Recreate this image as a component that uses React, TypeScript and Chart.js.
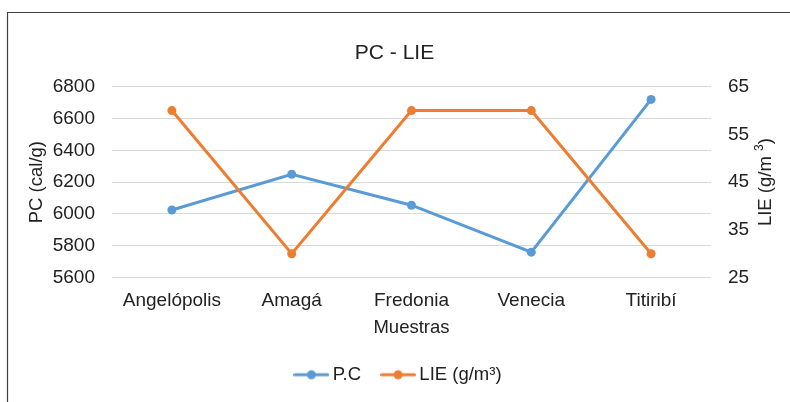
import React, { useEffect, useRef } from "react";
import { Chart, registerables } from "chart.js";

Chart.register(...registerables);

// ---- data ----
const categories = ["Angelópolis", "Amagá", "Fredonia", "Venecia", "Titiribí"];
const pcValues = [6025, 6250, 6055, 5760, 6720];
const lieValues = [60, 30, 60, 60, 30];
const pcTickRange = [5600, 6800];
const pcTickStep = 200;
const lieTickRange = [25, 65];
const lieTickStep = 10;

const seriesNames = ["P.C", "LIE (g/m³)"];
const chartTitle = "PC - LIE";
const xTitle = "Muestras";
const yTitle = "PC (cal/g)";
const y1TitleParts = ["LIE (g/m ", "3", ")"];

const BLUE = "#5B9BD5";
const ORANGE = "#ED7D31";
const TEXT = "#222222";
const GRID = "#D9D9D9";
const FONT = "'Liberation Sans', Arial, sans-serif";

function legendImage(color: string): HTMLCanvasElement {
  const c = document.createElement("canvas");
  c.width = 36;
  c.height = 12;
  const g = c.getContext("2d")!;
  g.strokeStyle = color;
  g.lineWidth = 3;
  g.lineCap = "round";
  g.beginPath();
  g.moveTo(1.5, 6);
  g.lineTo(34.5, 6);
  g.stroke();
  g.fillStyle = color;
  g.beginPath();
  g.arc(18, 6, 4.5, 0, Math.PI * 2);
  g.fill();
  return c;
}

const framePlugin = {
  id: "frame",
  beforeDraw(chart: any) {
    const ctx = chart.ctx;
    ctx.save();
    ctx.fillStyle = "#ffffff";
    ctx.fillRect(0, 0, chart.width, chart.height);
    ctx.strokeStyle = "#404040";
    ctx.lineWidth = 1.2;
    ctx.beginPath();
    ctx.moveTo(7.5, chart.height);
    ctx.lineTo(7.5, 12.5);
    ctx.lineTo(chart.width, 12.5);
    ctx.stroke();
    ctx.restore();
  },
};

const legendShift = {
  id: "legendShift",
  afterLayout(chart: any) {
    const l = chart.legend;
    if (l) {
      l.left += 6;
      l.right += 6;
    }
  },
};

// right axis title, rotated like Excel's (reading bottom-to-top), with superscript
const rightTitlePlugin = {
  id: "rightTitle",
  afterDraw(chart: any) {
    const s = chart.scales.y1;
    if (!s) return;
    const ctx = chart.ctx;
    const x = s.right - 15;
    const y = (s.top + s.bottom) / 2;
    const big = `18.5px ${FONT}`;
    const small = `12px ${FONT}`;
    ctx.save();
    ctx.font = big;
    const w1 = ctx.measureText(y1TitleParts[0]).width;
    const w3 = ctx.measureText(y1TitleParts[2]).width;
    ctx.font = small;
    const w2 = ctx.measureText(y1TitleParts[1]).width;
    const total = w1 + w2 + w3;
    ctx.translate(x, y);
    ctx.rotate(-Math.PI / 2);
    ctx.fillStyle = TEXT;
    ctx.textBaseline = "middle";
    ctx.textAlign = "left";
    let cx = -total / 2;
    ctx.font = big;
    ctx.fillText(y1TitleParts[0], cx, 0);
    cx += w1;
    ctx.font = small;
    ctx.fillText(y1TitleParts[1], cx, -6);
    cx += w2;
    ctx.font = big;
    ctx.fillText(y1TitleParts[2], cx, 0);
    ctx.restore();
  },
};

export default function App() {
  const ref = useRef<HTMLCanvasElement | null>(null);

  useEffect(() => {
    if (!ref.current) return;
    const imgs = [legendImage(BLUE), legendImage(ORANGE)];
    const chart = new Chart(ref.current, {
      type: "line",
      data: {
        labels: categories,
        datasets: [
          {
            label: seriesNames[0],
            data: pcValues,
            yAxisID: "y",
            borderColor: BLUE,
            backgroundColor: BLUE,
            pointBackgroundColor: BLUE,
            pointBorderColor: BLUE,
            borderWidth: 3,
            pointRadius: 4.5,
            pointBorderWidth: 0,
            order: 2,
          },
          {
            label: seriesNames[1],
            data: lieValues,
            yAxisID: "y1",
            borderColor: ORANGE,
            backgroundColor: ORANGE,
            pointBackgroundColor: ORANGE,
            pointBorderColor: ORANGE,
            borderWidth: 3,
            pointRadius: 4.5,
            pointBorderWidth: 0,
            order: 1,
          },
        ],
      },
      options: {
        responsive: false,
        animation: false,
        layout: { padding: { left: 8, right: 9, top: 12, bottom: 8 } },
        plugins: {
          tooltip: { enabled: false },
          title: {
            display: true,
            text: chartTitle,
            color: TEXT,
            font: { family: FONT, size: 21, weight: "normal" },
            padding: { top: 28.4, bottom: 21.1 },
          },
          legend: {
            display: true,
            position: "bottom",
            labels: {
              usePointStyle: true,
              pointStyleWidth: 24,
              padding: 25,
              color: TEXT,
              font: { family: FONT, size: 18.5 },
              sort: (a: any, b: any) => a.datasetIndex - b.datasetIndex,
              generateLabels: (c: any) => {
                const items = (Chart.defaults.plugins.legend.labels as any).generateLabels(c);
                return items.map((it: any) => ({ ...it, pointStyle: imgs[it.datasetIndex] }));
              },
            },
          },
        },
        scales: {
          x: {
            type: "category",
            offset: true,
            grid: { display: false, drawTicks: false },
            border: { display: false },
            ticks: {
              color: TEXT,
              padding: 12,
              font: { family: FONT, size: 19 },
              maxRotation: 0,
            },
            title: {
              display: true,
              text: xTitle,
              color: TEXT,
              font: { family: FONT, size: 18.5 },
              padding: { top: -7.5, bottom: 1.4 },
            },
          },
          y: {
            type: "linear",
            position: "left",
            min: pcTickRange[0],
            max: pcTickRange[1],
            afterFit: (s: any) => {
              s.width = 104;
            },
            grid: { color: GRID, lineWidth: 1, drawTicks: false },
            border: { display: false },
            ticks: {
              stepSize: pcTickStep,
              color: TEXT,
              padding: 17,
              font: { family: FONT, size: 19 },
              callback: (v: any) => String(v),
            },
            title: {
              display: true,
              text: yTitle,
              color: TEXT,
              font: { family: FONT, size: 18.5 },
              padding: { top: 18, bottom: 0 },
            },
          },
          y1: {
            type: "linear",
            position: "right",
            min: lieTickRange[0],
            max: lieTickRange[1],
            afterFit: (s: any) => {
              s.width = 70;
            },
            grid: { display: false, drawTicks: false },
            border: { display: false },
            ticks: {
              stepSize: lieTickStep,
              color: TEXT,
              padding: 17,
              font: { family: FONT, size: 19 },
              callback: (v: any) => String(v),
            },
            title: { display: false },
          },
        },
      },
      plugins: [framePlugin, legendShift, rightTitlePlugin],
    } as any);
    return () => chart.destroy();
  }, []);

  return (
    <div style={{ position: "absolute", left: 0, top: 0, width: 790, height: 402 }}>
      <canvas ref={ref} width={790} height={402} style={{ display: "block" }} />
    </div>
  );
}
